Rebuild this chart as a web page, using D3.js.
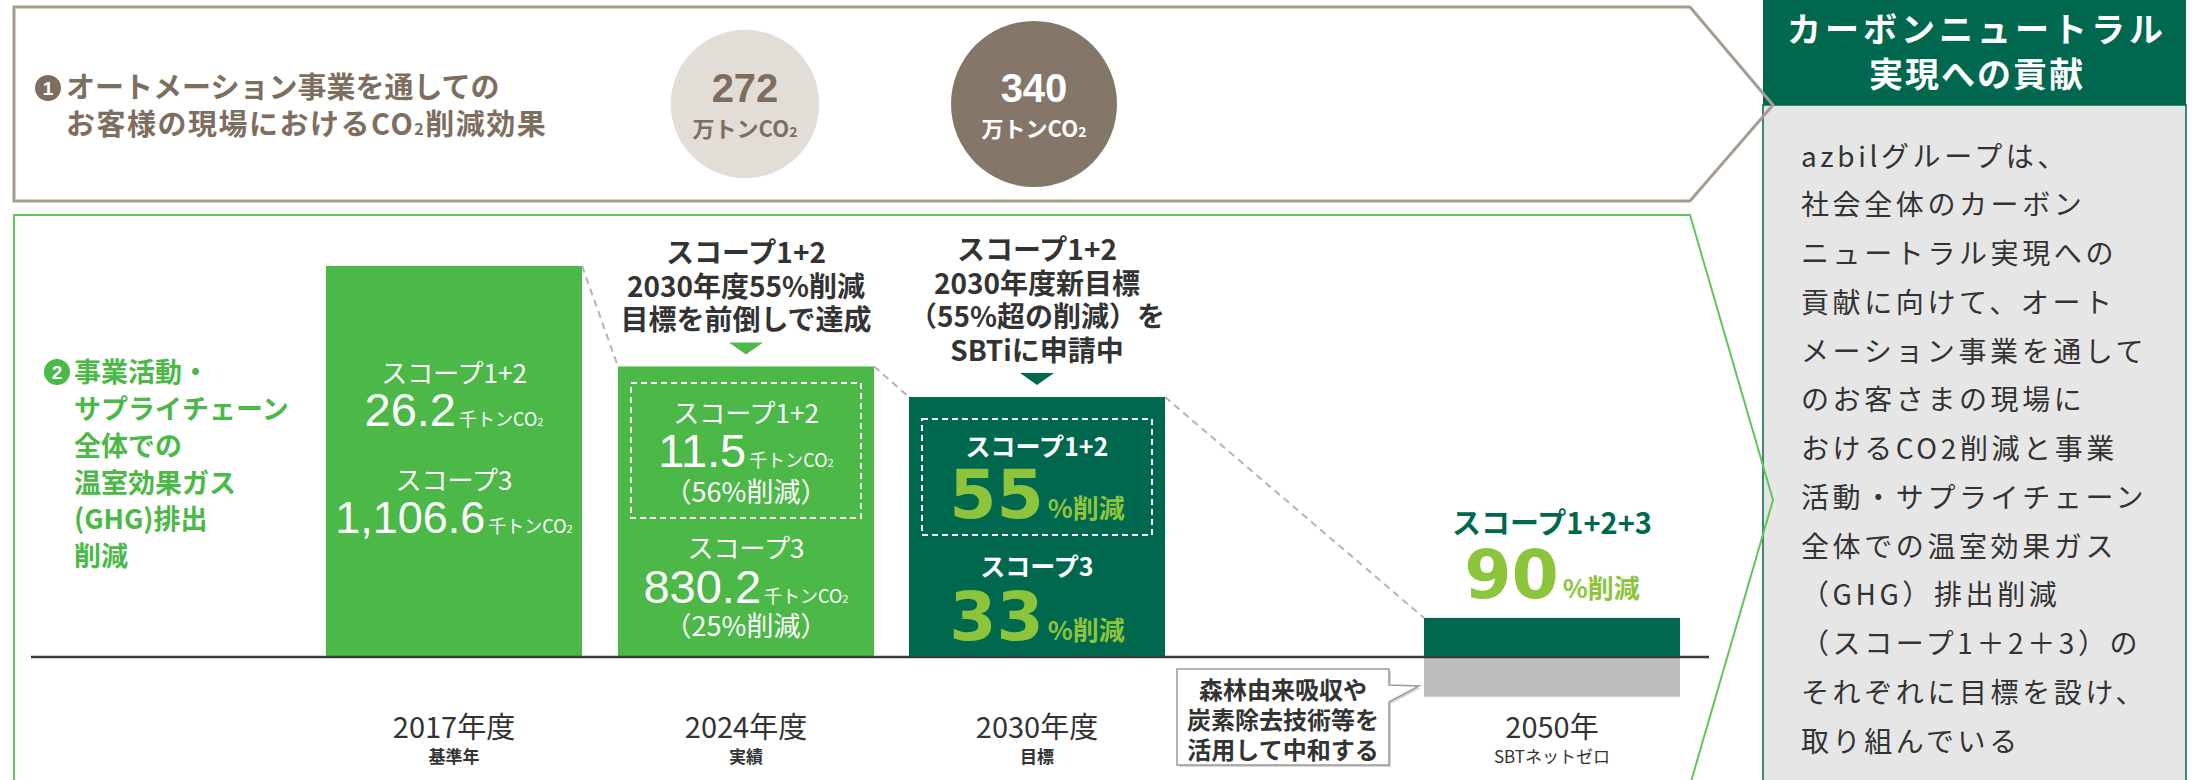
<!DOCTYPE html>
<html>
<head>
<meta charset="utf-8">
<script src="https://cdn.jsdelivr.net/npm/d3@7"></script>
<style>
  body { margin: 0; background: #fff; }
  svg { display: block; }
</style>
</head>
<body>
<svg></svg>
<script>
// ---- data ----
var years = ["2017年度", "2024年度", "2030年度", "2050年"];
var yearNotes = ["基準年", "実績", "目標", "SBTネットゼロ"];
// scope 1+2+3 emissions (千トンCO2) that set the bar heights
var totalEmissions = [1132.8, 841.7, 753.2, 113.3];
var neutralized2050 = -115;          // grey part under the axis
var scope12Values = ["26.2", "11.5"];
var scope3Values = ["1,106.6", "830.2"];
var scope12Cut = [56, 55];           // 2024 actual, 2030 target (%)
var scope3Cut = [25, 33];
var netCut2050 = 90;
var effectValues = [272, 340];       // 万トンCO2

var sec1Lines = ["オートメーション事業を通しての", "お客様の現場におけるCO2削減効果"];
var sec2Lines = ["事業活動・", "サプライチェーン", "全体での", "温室効果ガス", "(GHG)排出", "削減"];
var note2024 = ["スコープ1+2", "2030年度55%削減", "目標を前倒しで達成"];
var note2030 = ["スコープ1+2", "2030年度新目標", "（55%超の削減）を", "SBTiに申請中"];
var calloutLines = ["森林由来吸収や", "炭素除去技術等を", "活用して中和する"];
var panelTitle = ["カーボンニュートラル", "実現への貢献"];
var panelLines = ["azbilグループは、", "社会全体のカーボン", "ニュートラル実現への",
  "貢献に向けて、オート", "メーション事業を通して", "のお客さまの現場に",
  "おけるCO2削減と事業", "活動・サプライチェーン", "全体での温室効果ガス",
  "（GHG）排出削減", "（スコープ1＋2＋3）の", "それぞれに目標を設け、", "取り組んでいる"];

function main() {
    var W = 2199, H = 780;
    var JP = "'Noto Sans CJK JP', 'Noto Sans', sans-serif";
    var NUM = "'Liberation Sans', 'Noto Sans CJK JP', sans-serif";
    var BIG = "'DejaVu Sans', 'Liberation Sans', sans-serif";
    var bright = '#4cb848', dark = '#00684e', lime = '#8cc43c', brown = '#7d6e60', ink = '#333';

    var svg = d3.select('svg').attr('width', W).attr('height', H)
    svg.append('rect').attr('width', W).attr('height', H).attr('fill', '#fff')

    var line = d3.line()
    var arrow1 = line([[14, 7], [1690, 7], [1773, 105], [1690, 201], [14, 201]]) + 'Z'
    var arrow2 = line([[14, 215], [1690, 215], [1773, 500], [1690, 785], [14, 785]]) + 'Z'

    svg.append('path').attr('d', arrow1).attr('fill', '#fff')
    svg.append('path').attr('d', arrow2).attr('fill', '#fff')

    // several lines in one text element, yc = centre of first line
    function block(x, yc, lines, step, size, fill, w, anchor, spacing) {
        var t = svg.append('text').attr('x', x).attr('y', yc + size * 0.38)
            .attr('text-anchor', anchor || 'middle').attr('font-family', JP)
            .attr('font-weight', w || 400).attr('font-size', size).attr('fill', fill)
        if (spacing) t.style('letter-spacing', spacing)
        lines.forEach(function(s, k) {
            t.append('tspan').attr('x', x).attr('dy', k == 0 ? 0 : step).text(s)
        })
        return t
    }

    // right side panel
    svg.append('rect').attr('x', 1763).attr('y', 105).attr('width', 423).attr('height', 700)
        .attr('fill', '#e6e6e6').attr('stroke', dark).attr('stroke-width', 1.5)
    svg.append('rect').attr('x', 1763).attr('y', -2).attr('width', 423).attr('height', 107).attr('fill', dark)
    block(1977, 29, [panelTitle[0]], 0, 34, '#fff', 700, 'middle', '4px')
    block(1977, 74, [panelTitle[1]], 0, 34, '#fff', 700, 'middle', '2px')
    block(1801, 156, panelLines, 48.75, 28, ink, 400, 'start', '3.6px')

    svg.append('path').attr('d', arrow1).attr('fill', 'none').attr('stroke', '#a89c90').attr('stroke-width', 3)
    svg.append('path').attr('d', arrow2).attr('fill', 'none').attr('stroke', '#62c35f').attr('stroke-width', 2)

    // text with mixed sizes (small "2" in CO2 etc.), yb = baseline
    function rich(x, yb, parts, anchor) {
        var t = svg.append('text').attr('x', x).attr('y', yb).attr('text-anchor', anchor || 'middle')
        parts.forEach(function(p) {
            var s = t.append('tspan').text(p.t).attr('font-size', p.size).attr('fill', p.fill)
                .attr('font-weight', p.w || 400).attr('font-family', p.f || JP)
            if (p.dx) s.attr('dx', p.dx)
        })
        return t
    }
    function unit(fill, size) {
        return [{t: '千トンCO', size: size, fill: fill, dx: 3}, {t: '2', size: size * 0.62, fill: fill}]
    }
    function numBadge(cx, cy, n, fill) {
        svg.append('circle').attr('cx', cx).attr('cy', cy).attr('r', 13).attr('fill', fill)
        svg.append('text').attr('x', cx).attr('y', cy + 7).attr('text-anchor', 'middle')
            .attr('font-family', NUM).attr('font-weight', 700)
            .attr('font-size', 19).attr('fill', '#fff').text(n)
    }

    // ---- section 1 ----
    numBadge(48, 88, '1', brown)
    rich(66, 98, [{t: sec1Lines[0], size: 29, fill: brown, w: 700}], 'start')
    var l2 = sec1Lines[1].split('CO2')
    rich(66, 135, [{t: l2[0] + 'CO', size: 29, fill: brown, w: 700},
                   {t: '2', size: 16, fill: brown, w: 700},
                   {t: l2[1], size: 29, fill: brown, w: 700}], 'start')
        .style('letter-spacing', '1.5px')

    var rScale = d3.scaleSqrt().domain([0, d3.max(effectValues)]).range([0, 83])
    var cx = d3.scaleOrdinal().domain(effectValues).range([745, 1034])
    var circ = svg.selectAll('g.effect').data(effectValues).enter().append('g').attr('class', 'effect')
    circ.append('circle')
        .attr('cx', function(d) { return cx(d) })
        .attr('cy', 104)
        .attr('r', function(d) { return rScale(d) })
        .attr('fill', function(d, i) { return i == 0 ? '#e2ddd6' : '#85766a' })
    effectValues.forEach(function(d, i) {
        var c = i == 0 ? brown : '#fff'
        svg.append('text').attr('x', cx(d)).attr('y', 102).attr('text-anchor', 'middle')
            .attr('font-family', NUM).attr('font-weight', 700).attr('font-size', 40).attr('fill', c).text(d)
        rich(cx(d), 137, [{t: '万トンCO', size: 22, fill: c, w: 700}, {t: '2', size: 14, fill: c, w: 700}])
    })

    // ---- section 2 ----
    numBadge(57, 372, '2', bright)
    block(74, 372, sec2Lines, 36.8, 27, bright, 700, 'start')

    var barW = 256
    var x = d3.scaleOrdinal().domain(years).range([326, 618, 909, 1424])
    var y = d3.scaleLinear().domain([0, totalEmissions[0]]).range([657, 266])
    var mid = function(i) { return x(years[i]) + barW / 2 }

    // dashed connectors between bar tops
    d3.pairs(d3.range(years.length)).forEach(function(p) {
        svg.append('line')
            .attr('x1', x(years[p[0]]) + barW).attr('y1', y(totalEmissions[p[0]]))
            .attr('x2', x(years[p[1]])).attr('y2', y(totalEmissions[p[1]]))
            .attr('stroke', '#b4b4b4').attr('stroke-width', 2).attr('stroke-dasharray', '7,5')
    })

    svg.selectAll('rect.bar').data(totalEmissions).enter().append('rect')
        .attr('class', 'bar')
        .attr('x', function(d, i) { return x(years[i]) })
        .attr('y', function(d) { return y(d) })
        .attr('width', barW)
        .attr('height', function(d) { return y(0) - y(d) })
        .attr('fill', function(d, i) { return i < 2 ? bright : dark })

    svg.append('rect').attr('x', x(years[3])).attr('y', y(0))
        .attr('width', barW).attr('height', y(neutralized2050) - y(0)).attr('fill', '#bcbdbf')

    svg.append('line').attr('x1', 31).attr('x2', 1709).attr('y1', y(0)).attr('y2', y(0))
        .attr('stroke', '#3a3a3a').attr('stroke-width', 2.5)

    function centered(xc, yc, t, size, fill, w) {
        return block(xc, yc, [t], 0, size, fill, w, 'middle')
    }

    // bar 2017
    centered(mid(0), 373, 'スコープ1+2', 26, '#fff')
    rich(mid(0), 426, [{t: scope12Values[0], size: 47, fill: '#fff', f: NUM}].concat(unit('#fff', 18)))
    centered(mid(0), 480, 'スコープ3', 26, '#fff')
    rich(mid(0), 533, [{t: scope3Values[0], size: 45, fill: '#fff', f: NUM}].concat(unit('#fff', 18)))

    // bar 2024
    svg.append('rect').attr('x', mid(1) - 115).attr('y', 383).attr('width', 230).attr('height', 135)
        .attr('fill', 'none').attr('stroke', '#fff').attr('stroke-width', 2).attr('stroke-dasharray', '6,4')
    centered(mid(1), 413, 'スコープ1+2', 26, '#fff')
    rich(mid(1), 467, [{t: scope12Values[1], size: 47, fill: '#fff', f: NUM}].concat(unit('#fff', 18)))
    centered(mid(1), 492, '（' + scope12Cut[0] + '%削減）', 27, '#fff')
    centered(mid(1), 548, 'スコープ3', 26, '#fff')
    rich(mid(1), 603, [{t: scope3Values[1], size: 47, fill: '#fff', f: NUM}].concat(unit('#fff', 18)))
    centered(mid(1), 626, '（' + scope3Cut[0] + '%削減）', 27, '#fff')

    // bar 2030
    svg.append('rect').attr('x', mid(2) - 115).attr('y', 419).attr('width', 230).attr('height', 116)
        .attr('fill', 'none').attr('stroke', '#fff').attr('stroke-width', 2).attr('stroke-dasharray', '6,4')
    centered(mid(2), 446, 'スコープ1+2', 25, '#fff', 700)
    rich(mid(2), 518, [{t: scope12Cut[1], size: 68, fill: lime, w: 700, f: BIG},
                       {t: '%削減', size: 26, fill: lime, w: 700, dx: 4}])
    centered(mid(2), 566, 'スコープ3', 25, '#fff', 700)
    rich(mid(2), 640, [{t: scope3Cut[1], size: 68, fill: lime, w: 700, f: BIG},
                       {t: '%削減', size: 26, fill: lime, w: 700, dx: 4}])

    // notes above 2024 / 2030 bars
    function note(i, lines, color) {
        var top = y(totalEmissions[i])
        block(mid(i), top - 47 - (lines.length - 1) * 33.5, lines, 33.5, 28, ink, 700, 'middle')
        svg.append('path').attr('d', line([[mid(i) - 17, top - 24], [mid(i) + 17, top - 24], [mid(i), top - 12]]) + 'Z')
            .attr('fill', color)
    }
    note(1, note2024, bright)
    note(2, note2030, dark)

    // 2050
    var top4 = y(totalEmissions[3])
    centered(mid(3), top4 - 95, 'スコープ1+2+3', 29, dark, 700)
    rich(mid(3), top4 - 20, [{t: netCut2050, size: 68, fill: lime, w: 700, f: BIG},
                             {t: '%削減', size: 26, fill: lime, w: 700, dx: 4}])

    // callout
    var cb = line([[1177, 669], [1389, 669], [1389, 685], [1419, 686], [1389, 702], [1389, 765], [1177, 765]]) + 'Z'
    svg.append('path').attr('d', cb).attr('fill', '#d6d6d6').attr('transform', 'translate(2,2)')
    svg.append('path').attr('d', cb).attr('fill', '#fff').attr('stroke', '#9a9a9a').attr('stroke-width', 1.5)
    block(1283, 690, calloutLines, 30, 24, ink, 700, 'middle')

    // year labels
    years.forEach(function(t, i) {
        block(mid(i), 727, [t], 0, 29, ink, 400, 'middle')
        block(mid(i), 757, [yearNotes[i]], 0, 17, ink, i < 3 ? 700 : 400, 'middle')
    })
}
main()
</script>
</body>
</html>
